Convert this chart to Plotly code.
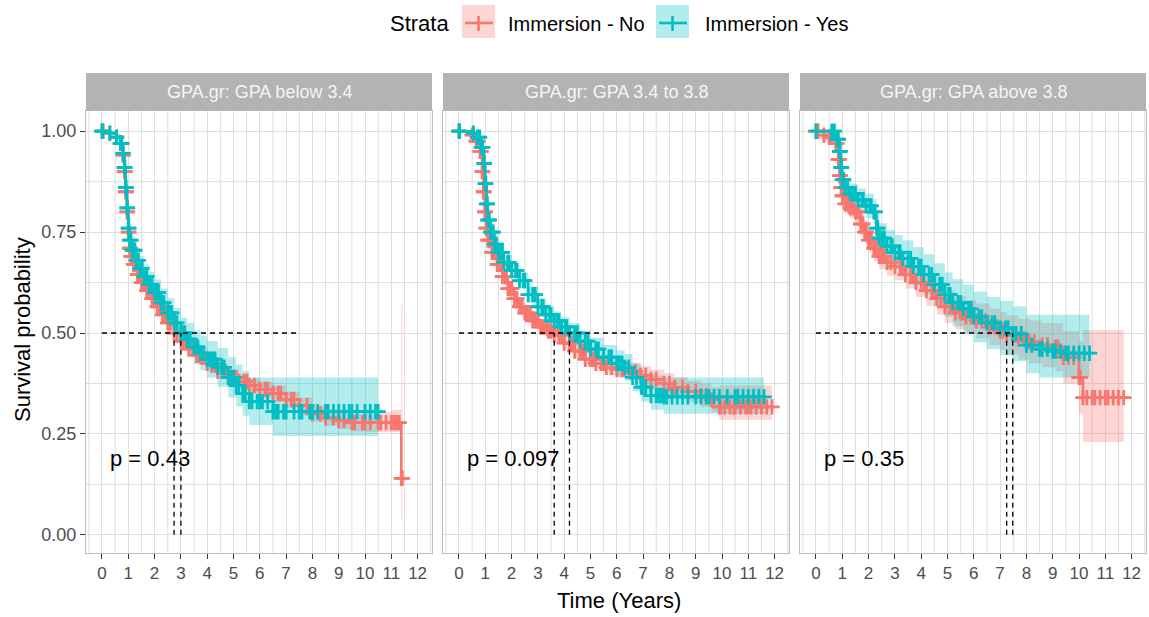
import numpy as np
import plotly.graph_objects as go

W, H = 1149, 617

# ---------------- data ----------------
PANEL_TITLES = ["GPA.gr: GPA below 3.4", "GPA.gr: GPA 3.4 to 3.8", "GPA.gr: GPA above 3.8"]
STRATA = ["Immersion - No", "Immersion - Yes"]
P_VALUES = ["p = 0.43", "p = 0.097", "p = 0.35"]
X_TICKS = [0, 1, 2, 3, 4, 5, 6, 7, 8, 9, 10, 11, 12]
X_TICK_LABELS = ["0", "1", "2", "3", "4", "5", "6", "7", "8", "9", "10", "11", "12"]
Y_TICKS = [0.0, 0.25, 0.5, 0.75, 1.0]
Y_TICK_LABELS = ["0.00", "0.25", "0.50", "0.75", "1.00"]

# Panel 1 : GPA below 3.4
p1_no_t = [0, 0.3, 0.55, 0.7, 0.8, 0.85, 0.9, 0.95, 1.0, 1.05, 1.1, 1.2, 1.35, 1.5, 1.7, 1.9, 2.1, 2.3, 2.5, 2.74, 3.0, 3.3, 3.6, 4.0, 4.4, 4.8, 5.2, 5.6, 6.0, 6.5, 7.0, 7.5, 8.0, 8.5, 9.0, 9.5, 10.0, 10.5, 11.0, 11.38, 11.42]
p1_no_s = [1.0, 0.995, 0.985, 0.97, 0.94, 0.90, 0.85, 0.80, 0.75, 0.71, 0.69, 0.67, 0.645, 0.625, 0.605, 0.585, 0.565, 0.545, 0.525, 0.50, 0.48, 0.46, 0.445, 0.425, 0.405, 0.39, 0.38, 0.37, 0.36, 0.35, 0.335, 0.32, 0.30, 0.29, 0.283, 0.278, 0.278, 0.278, 0.278, 0.14, 0.14]
p1_no_lo = [1.0, 0.99, 0.978, 0.96, 0.93, 0.888, 0.837, 0.786, 0.736, 0.695, 0.675, 0.655, 0.63, 0.61, 0.59, 0.57, 0.55, 0.53, 0.51, 0.485, 0.464, 0.444, 0.428, 0.408, 0.388, 0.372, 0.362, 0.352, 0.341, 0.33, 0.315, 0.30, 0.28, 0.27, 0.262, 0.256, 0.255, 0.255, 0.255, 0.035, 0.035]
p1_no_hi = [1.0, 1.0, 0.992, 0.98, 0.95, 0.912, 0.863, 0.814, 0.764, 0.725, 0.705, 0.685, 0.66, 0.64, 0.62, 0.60, 0.58, 0.56, 0.54, 0.515, 0.496, 0.476, 0.462, 0.442, 0.422, 0.408, 0.398, 0.388, 0.379, 0.37, 0.355, 0.34, 0.32, 0.31, 0.304, 0.30, 0.30, 0.305, 0.31, 0.57, 0.57]
p1_no_cens = [0.05, 0.75, 0.88, 0.92, 0.97, 1.02, 1.08, 1.15, 1.25, 1.3, 1.42, 1.58, 1.65, 1.8, 1.95, 2.05, 2.2, 2.4, 2.6, 2.85, 3.1, 3.2, 3.45, 3.7, 3.85, 4.2, 4.3, 4.6, 4.7, 5.0, 5.1, 5.4, 5.5, 5.8, 6.2, 6.3, 6.7, 6.8, 7.2, 7.3, 7.8, 8.3, 8.8, 9.2, 9.6, 9.9, 10.2, 10.6, 10.8, 11.1, 11.2, 11.3]

p1_yes_t = [0, 0.3, 0.55, 0.7, 0.8, 0.85, 0.9, 0.95, 1.0, 1.05, 1.15, 1.3, 1.45, 1.6, 1.8, 2.0, 2.25, 2.5, 2.75, 3.0, 3.25, 3.5, 3.75, 4.0, 4.4, 4.8, 5.1, 5.35, 5.6, 6.0, 6.5, 7.0, 7.5, 8.0, 8.5, 9.0, 9.5, 10.0, 10.5]
p1_yes_s = [1.0, 0.995, 0.985, 0.97, 0.945, 0.91, 0.86, 0.81, 0.76, 0.73, 0.705, 0.68, 0.66, 0.64, 0.62, 0.60, 0.575, 0.55, 0.525, 0.50, 0.485, 0.465, 0.45, 0.435, 0.415, 0.39, 0.37, 0.35, 0.33, 0.33, 0.305, 0.305, 0.305, 0.305, 0.305, 0.305, 0.305, 0.305, 0.305]
p1_yes_lo = [1.0, 0.99, 0.975, 0.955, 0.928, 0.89, 0.838, 0.787, 0.735, 0.705, 0.678, 0.652, 0.63, 0.61, 0.588, 0.567, 0.54, 0.514, 0.488, 0.462, 0.445, 0.424, 0.407, 0.39, 0.367, 0.34, 0.318, 0.295, 0.272, 0.272, 0.245, 0.245, 0.245, 0.245, 0.245, 0.245, 0.245, 0.245, 0.245]
p1_yes_hi = [1.0, 1.0, 0.995, 0.985, 0.962, 0.93, 0.882, 0.833, 0.785, 0.755, 0.732, 0.708, 0.69, 0.67, 0.652, 0.633, 0.61, 0.586, 0.562, 0.538, 0.525, 0.506, 0.493, 0.48, 0.463, 0.44, 0.422, 0.405, 0.39, 0.39, 0.39, 0.39, 0.39, 0.39, 0.39, 0.39, 0.39, 0.39, 0.39]
p1_yes_cens = [0.02, 0.75, 0.87, 0.92, 0.97, 1.02, 1.1, 1.2, 1.25, 1.38, 1.52, 1.7, 1.9, 2.1, 2.15, 2.35, 2.6, 2.65, 2.85, 3.1, 3.15, 3.35, 3.6, 3.65, 3.85, 4.1, 4.2, 4.3, 4.55, 4.65, 4.9, 5.0, 5.2, 5.45, 5.7, 5.9, 6.1, 6.3, 6.6, 6.7, 6.9, 7.3, 7.6, 7.9, 8.2, 8.6, 8.8, 9.2, 9.4, 9.7, 10.2, 10.4]

# Panel 2 : GPA 3.4 to 3.8
p2_no_t = [0, 0.5, 0.65, 0.8, 0.88, 0.93, 0.98, 1.03, 1.1, 1.25, 1.45, 1.65, 1.86, 2.1, 2.3, 2.5, 2.8, 3.1, 3.4, 3.62, 4.0, 4.4, 4.8, 5.2, 5.6, 6.0, 6.5, 6.9, 7.3, 7.8, 8.2, 8.7, 9.2, 9.6, 9.9, 10.5, 11.0, 11.5, 11.9]
p2_no_s = [1.0, 0.99, 0.975, 0.95, 0.90, 0.85, 0.80, 0.76, 0.73, 0.70, 0.67, 0.64, 0.61, 0.585, 0.565, 0.55, 0.53, 0.515, 0.505, 0.495, 0.475, 0.455, 0.435, 0.425, 0.415, 0.41, 0.405, 0.395, 0.385, 0.375, 0.365, 0.355, 0.345, 0.335, 0.317, 0.317, 0.317, 0.317, 0.317]
p2_no_lo = [1.0, 0.985, 0.968, 0.94, 0.888, 0.837, 0.787, 0.746, 0.716, 0.686, 0.656, 0.626, 0.596, 0.571, 0.551, 0.535, 0.515, 0.499, 0.489, 0.479, 0.458, 0.437, 0.417, 0.406, 0.395, 0.389, 0.383, 0.372, 0.361, 0.35, 0.339, 0.328, 0.316, 0.304, 0.285, 0.285, 0.285, 0.285, 0.285]
p2_no_hi = [1.0, 0.995, 0.982, 0.96, 0.912, 0.863, 0.813, 0.774, 0.744, 0.714, 0.684, 0.654, 0.624, 0.599, 0.579, 0.565, 0.545, 0.531, 0.521, 0.511, 0.492, 0.473, 0.453, 0.444, 0.435, 0.431, 0.427, 0.418, 0.409, 0.40, 0.391, 0.382, 0.374, 0.366, 0.37, 0.37, 0.37, 0.37, 0.37]
p2_no_cens = [0.02, 0.72, 0.84, 0.9, 0.95, 1.0, 1.06, 1.15, 1.2, 1.33, 1.38, 1.55, 1.6, 1.75, 1.8, 1.95, 2.0, 2.2, 2.4, 2.6, 2.7, 2.9, 3.0, 3.2, 3.3, 3.5, 3.8, 3.9, 4.2, 4.3, 4.6, 4.7, 5.0, 5.1, 5.4, 5.5, 5.8, 6.2, 6.3, 6.7, 7.1, 7.5, 8.0, 8.5, 9.0, 9.4, 9.95, 10.1, 10.3, 10.45, 10.7, 10.9, 11.1, 11.3, 11.7]

p2_yes_t = [0, 0.55, 0.7, 0.85, 0.95, 1.0, 1.05, 1.1, 1.2, 1.35, 1.5, 1.7, 2.0, 2.3, 2.63, 3.0, 3.3, 3.62, 3.9, 4.2, 4.6, 5.0, 5.5, 6.0, 6.3, 6.6, 6.93, 7.3, 7.8, 8.5, 9.5, 10.5, 11.6]
p2_yes_s = [1.0, 0.995, 0.985, 0.96, 0.92, 0.87, 0.82, 0.78, 0.75, 0.72, 0.70, 0.675, 0.655, 0.63, 0.595, 0.565, 0.545, 0.53, 0.515, 0.50, 0.48, 0.46, 0.44, 0.425, 0.415, 0.39, 0.366, 0.345, 0.342, 0.342, 0.342, 0.342, 0.342]
p2_yes_lo = [1.0, 0.99, 0.978, 0.95, 0.908, 0.857, 0.806, 0.765, 0.735, 0.705, 0.684, 0.658, 0.637, 0.611, 0.575, 0.544, 0.523, 0.507, 0.491, 0.475, 0.454, 0.432, 0.41, 0.393, 0.382, 0.356, 0.33, 0.31, 0.30, 0.30, 0.30, 0.30, 0.30]
p2_yes_hi = [1.0, 1.0, 0.992, 0.97, 0.932, 0.883, 0.834, 0.795, 0.765, 0.735, 0.716, 0.692, 0.673, 0.649, 0.615, 0.586, 0.567, 0.553, 0.539, 0.525, 0.506, 0.488, 0.47, 0.457, 0.448, 0.424, 0.40, 0.395, 0.39, 0.39, 0.39, 0.39, 0.39]
p2_yes_cens = [0.02, 0.78, 0.9, 0.97, 1.02, 1.08, 1.15, 1.25, 1.3, 1.42, 1.6, 1.65, 1.85, 1.9, 2.15, 2.2, 2.45, 2.5, 2.8, 2.9, 3.15, 3.2, 3.45, 3.5, 3.75, 3.8, 4.05, 4.1, 4.4, 4.5, 4.8, 4.9, 5.2, 5.3, 5.7, 5.8, 6.1, 6.2, 6.45, 6.75, 7.0, 7.1, 7.5, 7.6, 7.7, 7.9, 8.1, 8.3, 8.7, 9.0, 9.2, 9.4, 9.7, 9.9, 10.2, 10.6, 10.8, 11.0, 11.2, 11.4]

# Panel 3 : GPA above 3.8
p3_no_t = [0, 0.3, 0.5, 0.75, 0.85, 0.9, 0.95, 1.0, 1.1, 1.3, 1.5, 1.7, 1.85, 2.0, 2.2, 2.4, 2.7, 3.0, 3.4, 3.8, 4.2, 4.6, 4.9, 5.3, 5.7, 6.1, 6.6, 7.0, 7.25, 7.7, 8.1, 8.6, 9.1, 9.4, 10.0, 10.15, 10.6, 11.1, 11.7]
p3_no_s = [1.0, 0.99, 0.985, 0.97, 0.93, 0.89, 0.86, 0.84, 0.82, 0.81, 0.80, 0.77, 0.75, 0.73, 0.71, 0.69, 0.675, 0.665, 0.645, 0.625, 0.605, 0.585, 0.565, 0.55, 0.54, 0.53, 0.515, 0.505, 0.495, 0.485, 0.478, 0.47, 0.465, 0.44, 0.39, 0.34, 0.34, 0.34, 0.34]
p3_no_lo = [1.0, 0.975, 0.97, 0.952, 0.91, 0.868, 0.837, 0.816, 0.795, 0.784, 0.773, 0.742, 0.721, 0.70, 0.679, 0.658, 0.642, 0.631, 0.61, 0.589, 0.567, 0.546, 0.525, 0.509, 0.498, 0.487, 0.47, 0.458, 0.446, 0.434, 0.425, 0.415, 0.405, 0.375, 0.30, 0.23, 0.23, 0.23, 0.23]
p3_no_hi = [1.0, 1.0, 1.0, 0.988, 0.95, 0.912, 0.883, 0.864, 0.845, 0.836, 0.827, 0.798, 0.779, 0.76, 0.741, 0.722, 0.708, 0.699, 0.68, 0.661, 0.643, 0.624, 0.605, 0.591, 0.582, 0.573, 0.56, 0.552, 0.544, 0.536, 0.531, 0.525, 0.525, 0.505, 0.48, 0.507, 0.507, 0.507, 0.507]
p3_no_cens = [0.08, 0.6, 0.8, 0.88, 0.92, 0.97, 1.05, 1.2, 1.4, 1.6, 1.78, 1.92, 2.1, 2.3, 2.5, 2.6, 2.85, 3.2, 3.3, 3.6, 3.7, 4.0, 4.1, 4.4, 4.5, 4.75, 5.1, 5.2, 5.5, 5.6, 5.9, 6.0, 6.3, 6.45, 6.8, 6.9, 7.1, 7.5, 7.6, 7.9, 8.3, 8.8, 9.2, 9.6, 9.8, 10.05, 10.3, 10.5, 10.8, 11.0, 11.3, 11.5]

p3_yes_t = [0, 0.6, 0.8, 0.9, 0.95, 1.0, 1.1, 1.3, 1.6, 1.9, 2.2, 2.3, 2.4, 2.7, 3.0, 3.3, 3.7, 4.1, 4.5, 4.9, 5.2, 5.6, 6.0, 6.5, 7.0, 7.48, 8.0, 8.5, 9.0, 9.5, 10.4]
p3_yes_s = [1.0, 1.0, 0.98, 0.95, 0.91, 0.88, 0.86, 0.845, 0.83, 0.815, 0.80, 0.76, 0.735, 0.715, 0.70, 0.685, 0.665, 0.645, 0.62, 0.595, 0.575, 0.56, 0.54, 0.525, 0.512, 0.498, 0.47, 0.46, 0.455, 0.45, 0.45]
p3_yes_lo = [1.0, 1.0, 0.968, 0.935, 0.893, 0.86, 0.838, 0.82, 0.802, 0.785, 0.768, 0.725, 0.698, 0.675, 0.657, 0.64, 0.617, 0.595, 0.567, 0.54, 0.517, 0.50, 0.477, 0.46, 0.445, 0.43, 0.40, 0.39, 0.39, 0.39, 0.39]
p3_yes_hi = [1.0, 1.0, 0.992, 0.965, 0.927, 0.90, 0.882, 0.87, 0.858, 0.845, 0.832, 0.795, 0.772, 0.755, 0.743, 0.73, 0.713, 0.695, 0.673, 0.65, 0.633, 0.62, 0.603, 0.59, 0.579, 0.566, 0.545, 0.545, 0.545, 0.545, 0.545]
p3_yes_cens = [0.7, 0.85, 0.92, 0.97, 1.05, 1.2, 1.4, 1.5, 1.75, 1.8, 2.05, 2.1, 2.25, 2.35, 2.5, 2.6, 2.85, 2.9, 3.15, 3.2, 3.5, 3.6, 3.9, 4.0, 4.3, 4.4, 4.7, 4.8, 5.05, 5.1, 5.4, 5.5, 5.8, 5.9, 6.2, 6.3, 6.7, 6.8, 7.2, 7.3, 7.6, 7.8, 8.2, 8.6, 8.8, 9.1, 9.3, 9.6, 9.8, 10.0, 10.2]

# median survival times (No, Yes) per panel
MEDIANS = [[2.74, 3.0], [3.62, 4.2], [7.25, 7.48]]

# ---------------- styling ----------------
COLORS = ["#F8766D", "#00BFC4"]
FILLS = ["rgba(248,118,109,0.3)", "rgba(0,191,196,0.3)"]
FONT = "Liberation Sans, Arial, sans-serif"
GRID = "#dedede"
BORDER = "#bdbdbd"
MSIZE = 11
MWIDTH = 2.8

panels = [
    [(p1_no_t, p1_no_s, p1_no_lo, p1_no_hi, p1_no_cens), (p1_yes_t, p1_yes_s, p1_yes_lo, p1_yes_hi, p1_yes_cens)],
    [(p2_no_t, p2_no_s, p2_no_lo, p2_no_hi, p2_no_cens), (p2_yes_t, p2_yes_s, p2_yes_lo, p2_yes_hi, p2_yes_cens)],
    [(p3_no_t, p3_no_s, p3_no_lo, p3_no_hi, p3_no_cens), (p3_yes_t, p3_yes_s, p3_yes_lo, p3_yes_hi, p3_yes_cens)],
]

PANEL_L = [86, 443, 800]
PANEL_R = [432, 789, 1146]
PLOT_TOP, PLOT_BOT = 111, 553
STRIP_TOP = 73
X_RANGE = [-0.608, 12.547]
Y_RANGE = [-0.045, 1.05]


def px(x):
    return x / W


def py(y):
    return 1 - y / H


fig = go.Figure()

for i, panel in enumerate(panels):
    sfx = "" if i == 0 else str(i + 1)
    xa, ya = "x" + sfx, "y" + sfx
    # confidence bands
    for g, (t, s, lo, hi, cens) in enumerate(panel):
        fig.add_trace(go.Scatter(x=t, y=lo, mode="lines", line=dict(width=0, shape="hv"),
                                 xaxis=xa, yaxis=ya, showlegend=False, hoverinfo="skip"))
        fig.add_trace(go.Scatter(x=t, y=hi, mode="lines", line=dict(width=0, shape="hv"),
                                 fill="tonexty", fillcolor=FILLS[g],
                                 xaxis=xa, yaxis=ya, showlegend=False, hoverinfo="skip"))
    # survival curves + censor marks
    for g, (t, s, lo, hi, cens) in enumerate(panel):
        fig.add_trace(go.Scatter(x=t, y=s, mode="lines+markers", name=STRATA[g],
                                 line=dict(color=COLORS[g], width=2.6, shape="hv"),
                                 marker=dict(symbol="cross-thin", size=MSIZE,
                                             line=dict(color=COLORS[g], width=MWIDTH)),
                                 xaxis=xa, yaxis=ya, showlegend=False))
        tt = np.asarray(t)
        ss = np.asarray(s)
        idx = np.searchsorted(tt, np.asarray(cens), side="right") - 1
        fig.add_trace(go.Scatter(x=cens, y=ss[idx], mode="markers",
                                 marker=dict(symbol="cross-thin", size=MSIZE,
                                             line=dict(color=COLORS[g], width=MWIDTH)),
                                 xaxis=xa, yaxis=ya, showlegend=False, hoverinfo="skip"))
    # median lines
    med_max = max(max(m) for m in MEDIANS)
    fig.add_trace(go.Scatter(x=[0, med_max], y=[0.5, 0.5], mode="lines",
                             line=dict(color="black", width=1.3, dash="5px,4px"),
                             xaxis=xa, yaxis=ya, showlegend=False, hoverinfo="skip"))
    for m in MEDIANS[i]:
        fig.add_trace(go.Scatter(x=[m, m], y=[0, 0.5], mode="lines",
                                 line=dict(color="black", width=1.3, dash="5px,4px"),
                                 xaxis=xa, yaxis=ya, showlegend=False, hoverinfo="skip"))

layout = dict(
    width=W, height=H, autosize=False,
    margin=dict(l=0, r=0, t=0, b=0),
    paper_bgcolor="white", plot_bgcolor="white",
    font=dict(family=FONT, color="black"),
    showlegend=False,
)

x_minor = [-0.5] + [v + 0.5 for v in X_TICKS]
y_minor = [v + 0.125 for v in Y_TICKS[:-1]]

for i in range(3):
    sfx = "" if i == 0 else str(i + 1)
    layout["xaxis" + sfx] = dict(
        domain=[px(PANEL_L[i]), px(PANEL_R[i])], anchor="y" + sfx,
        range=X_RANGE, tickmode="array", tickvals=X_TICKS, ticktext=X_TICK_LABELS,
        ticks="outside", ticklen=5, tickwidth=1, tickcolor="#333333",
        tickfont=dict(size=17, color="#4d4d4d", family=FONT),
        showgrid=True, gridcolor=GRID, gridwidth=1,
        showline=True, mirror=True, linecolor=BORDER, linewidth=1, zeroline=False,
    )
    layout["yaxis" + sfx] = dict(
        domain=[py(PLOT_BOT), py(PLOT_TOP)], anchor="x" + sfx,
        range=Y_RANGE, tickmode="array", tickvals=Y_TICKS, ticktext=Y_TICK_LABELS,
        ticks="outside" if i == 0 else "", ticklen=5, tickwidth=1, tickcolor="#333333",
        showticklabels=(i == 0),
        tickfont=dict(size=18, color="#4d4d4d", family=FONT),
        showgrid=True, gridcolor=GRID, gridwidth=1,
        showline=True, mirror=True, linecolor=BORDER, linewidth=1, zeroline=False,
    )

shapes = []
annotations = []
for i in range(3):
    sfx = "" if i == 0 else str(i + 1)
    # minor grid lines
    for v in x_minor:
        shapes.append(dict(type="line", xref="x" + sfx, yref="y" + sfx + " domain", x0=v, x1=v,
                           y0=0, y1=1, line=dict(color=GRID, width=1), layer="below"))
    for v in y_minor:
        shapes.append(dict(type="line", xref="x" + sfx + " domain", yref="y" + sfx, x0=0, x1=1,
                           y0=v, y1=v, line=dict(color=GRID, width=1), layer="below"))
    # strip
    shapes.append(dict(type="rect", xref="paper", yref="paper",
                       x0=px(PANEL_L[i]), x1=px(PANEL_R[i]), y0=py(PLOT_TOP), y1=py(STRIP_TOP),
                       fillcolor="#b3b3b3", line=dict(width=0)))
    annotations.append(dict(xref="paper", yref="paper", x=px((PANEL_L[i] + PANEL_R[i]) / 2),
                            y=py((PLOT_TOP + STRIP_TOP) / 2), text=PANEL_TITLES[i], showarrow=False,
                            font=dict(size=18, color="#f5f5f5", family=FONT),
                            xanchor="center", yanchor="middle"))
    annotations.append(dict(xref="x" + sfx, yref="y" + sfx, x=0.22, y=0.19, text=P_VALUES[i],
                            showarrow=False, xanchor="left", yanchor="middle",
                            font=dict(size=22, color="black", family=FONT)))

# axis titles
annotations.append(dict(xref="paper", yref="paper", x=px(619), y=py(600), text="Time (Years)",
                        showarrow=False, xanchor="center", yanchor="middle",
                        font=dict(size=22, color="black", family=FONT)))
annotations.append(dict(xref="paper", yref="paper", x=px(23), y=py(330), text="Survival probability",
                        showarrow=False, xanchor="center", yanchor="middle", textangle=-90,
                        font=dict(size=22, color="black", family=FONT)))

# legend (drawn manually to reproduce ggplot key boxes)
annotations.append(dict(xref="paper", yref="paper", x=px(388), y=py(24), text="Strata",
                        showarrow=False, xanchor="left", yanchor="middle",
                        font=dict(size=22, color="black", family=FONT)))
legend_box_x = [462, 656]
legend_text_x = [506, 703]
key_fill = ["rgb(253,214,211)", "rgb(178,236,237)"]
for g in range(2):
    bx = legend_box_x[g]
    shapes.append(dict(type="rect", xref="paper", yref="paper", x0=px(bx), x1=px(bx + 33),
                       y0=py(38), y1=py(5), fillcolor=key_fill[g], line=dict(width=0)))
    shapes.append(dict(type="line", xref="paper", yref="paper", x0=px(bx + 3), x1=px(bx + 31),
                       y0=py(23), y1=py(23), line=dict(color=COLORS[g], width=2.6)))
    shapes.append(dict(type="line", xref="paper", yref="paper", x0=px(bx + 16.5), x1=px(bx + 16.5),
                       y0=py(16), y1=py(31), line=dict(color=COLORS[g], width=2.6)))
    annotations.append(dict(xref="paper", yref="paper", x=px(legend_text_x[g]), y=py(24),
                            text=STRATA[g], showarrow=False, xanchor="left", yanchor="middle",
                            font=dict(size=20, color="black", family=FONT)))

layout["shapes"] = shapes
layout["annotations"] = annotations
fig.update_layout(**layout)

fig.write_html("out.html", config={"displayModeBar": False},
               post_script="document.body.style.margin='0px';document.body.style.overflow='hidden';")
